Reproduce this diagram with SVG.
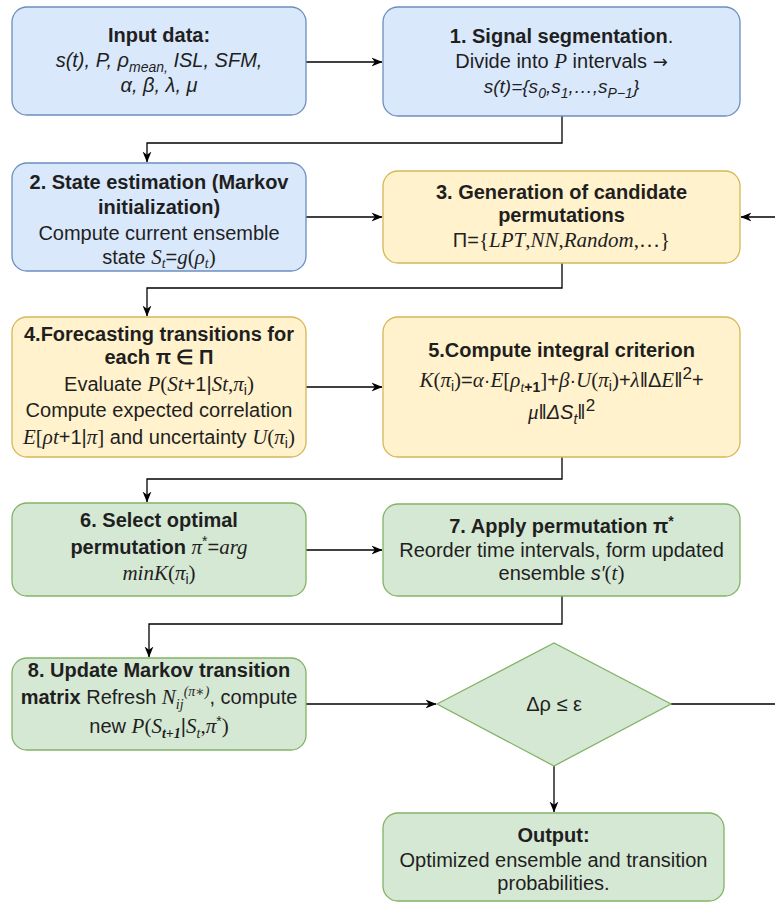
<svg xmlns="http://www.w3.org/2000/svg" width="775" height="903" viewBox="0 0 775 903">
<defs>
<style>
.blue{fill:#dae8fc;stroke:#6c8ebf;stroke-width:1.3}
.yel{fill:#fff2cc;stroke:#d6b656;stroke-width:1.3}
.grn{fill:#d5e8d4;stroke:#82b366;stroke-width:1.3}
text{font-family:"Liberation Sans",Arial,sans-serif;font-size:20px;fill:#1f1f1f;text-anchor:middle}
.b{font-weight:bold}
.i{font-style:italic}
.m{font-family:"Liberation Serif","DejaVu Serif",serif;font-style:italic;font-size:21px}
.r{font-family:"Liberation Serif","DejaVu Serif",serif;font-size:21px}
.s{font-size:14px}
.conn{fill:none;stroke:#000;stroke-width:1.3}
</style>
<marker id="arr" viewBox="0 0 10 10" refX="9.5" refY="5" markerWidth="11" markerHeight="11" markerUnits="userSpaceOnUse" orient="auto">
<path d="M0,1 L10,5 L0,9 L3,5 z" fill="#000"/>
</marker>
</defs>
<g id="connectors">
<path class="conn" d="M306,62 H382" marker-end="url(#arr)"/>
<path class="conn" d="M562,116 V143 H147 V162" marker-end="url(#arr)"/>
<path class="conn" d="M306,217 H382" marker-end="url(#arr)"/>
<path class="conn" d="M562,263 V288 H147 V316" marker-end="url(#arr)"/>
<path class="conn" d="M306,387 H382" marker-end="url(#arr)"/>
<path class="conn" d="M562,457 V479 H147 V502" marker-end="url(#arr)"/>
<path class="conn" d="M306,550 H382" marker-end="url(#arr)"/>
<path class="conn" d="M562,596 V624 H149 V657" marker-end="url(#arr)"/>
<path class="conn" d="M306,704 H436" marker-end="url(#arr)"/>
<path class="conn" d="M554,766 V812" marker-end="url(#arr)"/>
<path class="conn" d="M671,704 H800 V217 H741" marker-end="url(#arr)"/>
</g>
<g id="input">
<rect class="blue" x="12" y="7" width="294" height="108" rx="15"/>
<text x="159" y="42" class="b">Input data:</text>
<text x="159" y="67" class="i">s(t), P, ρ<tspan class="s" dy="5">mean,</tspan><tspan dy="-5"> ISL, SFM,</tspan></text>
<text x="159" y="92" class="i">α, β, λ, μ</text>
</g>
<g id="step1">
<rect class="blue" x="383" y="7" width="357" height="109" rx="15"/>
<text x="561.5" y="43"><tspan class="b">1. Signal segmentation</tspan>.</text>
<text x="561.5" y="68">Divide into <tspan class="m">P</tspan> intervals <tspan style="font-family:'DejaVu Sans',sans-serif;font-size:18px">→</tspan></text>
<text x="561.5" y="93" class="i" style="font-size:19px">s(t)={s<tspan class="s" dy="5">0</tspan><tspan dy="-5">,s</tspan><tspan class="s" dy="5">1</tspan><tspan dy="-5">,…,s</tspan><tspan class="s" dy="5">P−1</tspan><tspan dy="-5">}</tspan></text>
</g>
<g id="step2">
<rect class="blue" x="12" y="163" width="294" height="108" rx="15"/>
<text x="159" y="189" class="b">2. State estimation (Markov</text>
<text x="159" y="214" class="b">initialization)</text>
<text x="159" y="240">Compute current ensemble</text>
<text x="159" y="264">state <tspan class="m">S</tspan><tspan class="m s" dy="4">t</tspan><tspan dy="-4">=</tspan><tspan class="m">g</tspan><tspan class="r">(</tspan><tspan class="m">ρ</tspan><tspan class="m s" dy="4">t</tspan><tspan dy="-4" class="r">)</tspan></text>
</g>
<g id="step3">
<rect class="yel" x="383" y="171" width="357" height="92" rx="15"/>
<text x="561.5" y="199" class="b">3. Generation of candidate</text>
<text x="561.5" y="222" class="b">permutations</text>
<text x="561.5" y="247">Π=<tspan class="r">{</tspan><tspan class="m">LPT</tspan><tspan class="r">,</tspan><tspan class="m">NN</tspan><tspan class="r">,</tspan><tspan class="m">Random</tspan><tspan class="r">,…}</tspan></text>
</g>
<g id="step4">
<rect class="yel" x="12" y="317" width="294" height="140" rx="15"/>
<text x="159" y="341" class="b">4.Forecasting transitions for</text>
<text x="159" y="364" class="b">each π ∈ Π</text>
<text x="159" y="391">Evaluate <tspan class="m">P</tspan><tspan class="r">(</tspan><tspan class="m">St</tspan>+1|<tspan class="m">St</tspan><tspan class="r">,</tspan><tspan class="m">π</tspan><tspan class="s" dy="4">i</tspan><tspan dy="-4" class="r">)</tspan></text>
<text x="159" y="417">Compute expected correlation</text>
<text x="159" y="444"><tspan class="m">E</tspan><tspan class="r">[</tspan><tspan class="m">ρt</tspan>+1|<tspan class="m">π</tspan><tspan class="r">]</tspan> and uncertainty <tspan class="m">U</tspan><tspan class="r">(</tspan><tspan class="m">π</tspan><tspan class="s" dy="4">i</tspan><tspan dy="-4" class="r">)</tspan></text>
</g>
<g id="step5">
<rect class="yel" x="383" y="317" width="357" height="140" rx="15"/>
<text x="561.5" y="357" class="b">5.Compute integral criterion</text>
<text x="561.5" y="387"><tspan class="m">K</tspan><tspan class="r">(</tspan><tspan class="m">π</tspan><tspan class="s" dy="4">i</tspan><tspan dy="-4" class="r">)</tspan>=<tspan class="m">α</tspan>·<tspan class="m">E</tspan><tspan class="r">[</tspan><tspan class="m">ρ</tspan><tspan class="m s" dy="5">t</tspan><tspan class="s b">+1</tspan><tspan dy="-5" class="r">]</tspan>+<tspan class="m">β</tspan>·<tspan class="m">U</tspan><tspan class="r">(</tspan><tspan class="m">π</tspan><tspan class="s" dy="4">i</tspan><tspan dy="-4" class="r">)</tspan>+<tspan class="m">λ</tspan>‖Δ<tspan class="m">E</tspan>‖<tspan dy="-8" style="font-size:17px">2</tspan><tspan dy="8">+</tspan></text>
<text x="561.5" y="419"><tspan class="m">μ</tspan>‖<tspan class="i">ΔS</tspan><tspan class="i s" dy="5">t</tspan><tspan dy="-5">‖</tspan><tspan dy="-8" style="font-size:17px">2</tspan></text>
</g>
<g id="step6">
<rect class="grn" x="12" y="503" width="294" height="93" rx="15"/>
<text x="159" y="527" class="b">6. Select optimal</text>
<text x="159" y="554"><tspan class="b">permutation </tspan><tspan class="m">π</tspan><tspan class="s" dy="-8">*</tspan><tspan dy="8">=</tspan><tspan class="m">arg</tspan></text>
<text x="159" y="580"><tspan class="m">minK</tspan><tspan class="r">(</tspan><tspan class="m">π</tspan><tspan class="s" dy="4">i</tspan><tspan dy="-4" class="r">)</tspan></text>
</g>
<g id="step7">
<rect class="grn" x="383" y="504" width="357" height="92" rx="15"/>
<text x="561.5" y="533" class="b">7. Apply permutation π<tspan class="s" dy="-7">*</tspan></text>
<text x="561.5" y="557">Reorder time intervals, form updated</text>
<text x="561.5" y="580">ensemble <tspan class="i">s′</tspan><tspan class="r">(</tspan><tspan class="m">t</tspan><tspan class="r">)</tspan></text>
</g>
<g id="step8">
<rect class="grn" x="12" y="658" width="294" height="92" rx="15"/>
<text x="159" y="677" class="b">8. Update Markov transition</text>
<text x="159" y="704"><tspan class="b">matrix</tspan> Refresh <tspan class="m">N</tspan><tspan class="m s" dy="5">ij</tspan><tspan class="m s" dy="-13">(π∗)</tspan><tspan dy="8">, compute</tspan></text>
<text x="159" y="733">new <tspan class="m">P</tspan><tspan class="r">(</tspan><tspan class="m">S</tspan><tspan class="m s b" dy="5">t+1</tspan><tspan dy="-5">|</tspan><tspan class="m">S</tspan><tspan class="m s" dy="5">t</tspan><tspan dy="-5" class="r">,</tspan><tspan class="m">π</tspan><tspan class="s" dy="-7">*</tspan><tspan dy="7" class="r">)</tspan></text>
</g>
<g id="decision">
<polygon class="grn" points="437,704 554,643 671,704 554,766"/>
<text x="554" y="711">Δρ ≤ ε</text>
</g>
<g id="output">
<rect class="grn" x="383" y="813" width="341" height="88" rx="15"/>
<text x="553.5" y="842" class="b">Output:</text>
<text x="553.5" y="867">Optimized ensemble and transition</text>
<text x="553.5" y="890">probabilities.</text>
</g>
</svg>
